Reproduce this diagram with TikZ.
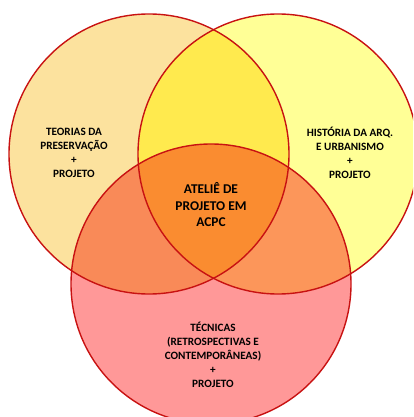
\documentclass[tikz,border=0pt]{standalone}
\usepackage{fontspec}
\setmainfont{Carlito}
\definecolor{leftfill}{RGB}{252,226,158}
\definecolor{rightfill}{RGB}{255,255,150}
\definecolor{bottomfill}{RGB}{255,152,152}
\definecolor{lrfill}{RGB}{255,234,78}
\definecolor{lbfill}{RGB}{249,138,88}
\definecolor{rbfill}{RGB}{252,150,90}
\definecolor{centerfill}{RGB}{250,140,48}
\definecolor{ringred}{RGB}{200,18,18}
\begin{document}
\begin{tikzpicture}[x=1pt,y=-1pt,
  ring/.style={draw=ringred,line width=1.4pt},
  label/.style={align=center,font=\bfseries\fontsize{11.2}{14}\selectfont,text=black},
  biglabel/.style={align=center,font=\bfseries\fontsize{13.4}{16.5}\selectfont,text=black}]
\useasboundingbox (0,0) rectangle (413,417);
\clip (0,0) rectangle (413,417);
% circle geometry
\def\circL{(149,154) circle (140)}
\def\circR{(278,154) circle (140)}
\def\circB{(211,284) circle (140)}
% single-set fills
\fill[leftfill] \circL;
\fill[rightfill] \circR;
\fill[bottomfill] \circB;
% pairwise overlaps
\begin{scope}\clip \circL; \fill[lrfill] \circR; \end{scope}
\begin{scope}\clip \circL; \fill[lbfill] \circB; \end{scope}
\begin{scope}\clip \circR; \fill[rbfill] \circB; \end{scope}
% triple overlap
\begin{scope}\clip \circL; \clip \circR; \fill[centerfill] \circB; \end{scope}
% outlines
\draw[ring] \circL;
\draw[ring] \circR;
\draw[ring] \circB;
% labels
\node[label] (teorias) at (74,153) {TEORIAS DA\\PRESERVAÇÃO\\+\\PROJETO};
\node[label] (historia) at (350,153) {HISTÓRIA DA ARQ.\\E URBANISMO\\+\\PROJETO};
\node[biglabel] (atelie) at (211,205) {ATELIÊ DE\\PROJETO EM\\ACPC};
\node[label] (tecnicas) at (213,355) {TÉCNICAS\\(RETROSPECTIVAS E\\CONTEMPORÂNEAS)\\+\\PROJETO};
\end{tikzpicture}
\end{document}
